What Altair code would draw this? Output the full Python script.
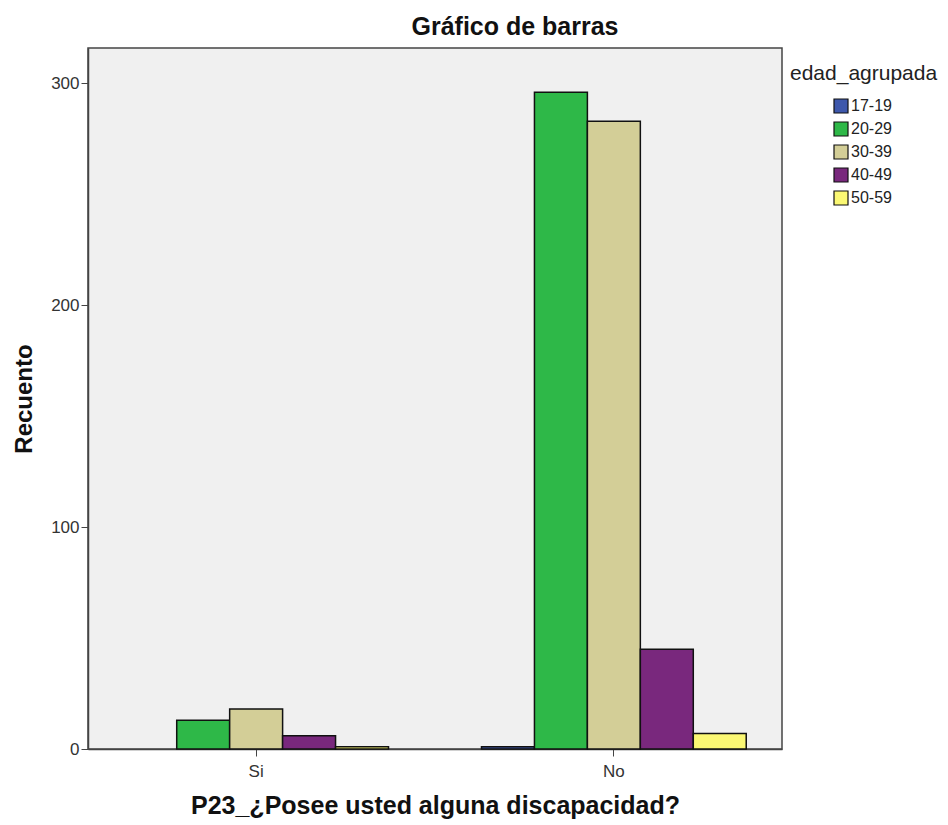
import altair as alt
import pandas as pd

groups = ["Si", "No"]
ages = ["17-19", "20-29", "30-39", "40-49", "50-59"]
si_counts = [0, 13, 18, 6, 1]
no_counts = [1, 296, 283, 45, 7]
colors = ["#3E58AC", "#2EB848", "#D3CE97", "#79287D", "#FBF873"]

rows = []
for g, counts in zip(groups, [si_counts, no_counts]):
    for a, c in zip(ages, counts):
        rows.append({"grupo": g, "edad": a, "n": c})
df = pd.DataFrame(rows)

font = "Liberation Sans"

chart = alt.Chart(df).transform_filter(
    alt.datum.n > 0
).mark_bar(stroke="#111111", strokeWidth=1.5).encode(
    x=alt.X("grupo:N", sort=groups,
            scale=alt.Scale(paddingInner=0.26, paddingOuter=0.1),
            axis=alt.Axis(title="P23_¿Posee usted alguna discapacidad?", labelAngle=0,
                          labelFontSize=17, labelColor="#333333", labelPadding=7,
                          tickSize=7, tickColor="#444444", domainColor="#444444",
                          domainWidth=1.5, titleFontSize=25, titleFontWeight="bold",
                          titleColor="#111111", titlePadding=14)),
    xOffset=alt.XOffset("edad:N", scale=alt.Scale(domain=ages, paddingInner=0, paddingOuter=0)),
    y=alt.Y("n:Q", scale=alt.Scale(domain=[0, 316], nice=False),
            axis=alt.Axis(title="Recuento", values=[0, 100, 200, 300], grid=False,
                          labelFontSize=17, labelColor="#333333", labelPadding=2,
                          tickSize=7, tickColor="#444444", domainColor="#444444",
                          domainWidth=1.5, titleFontSize=24, titleFontWeight="bold",
                          titleColor="#111111", titlePadding=14)),
    color=alt.Color("edad:N", scale=alt.Scale(domain=ages, range=colors),
                    legend=alt.Legend(title="edad_agrupada", orient="none",
                                      legendX=702, legendY=15,
                                      titleFontSize=21, titleFontWeight="normal",
                                      titleColor="#222222", titlePadding=14,
                                      labelFontSize=16, labelColor="#222222",
                                      symbolType="square", symbolSize=196,
                                      symbolStrokeColor="#111111", symbolStrokeWidth=1.2,
                                      symbolOffset=43, labelOffset=2, rowPadding=3)),
).properties(
    width=694,
    height=701,
    title=alt.TitleParams("Gráfico de barras", fontSize=25, fontWeight="bold",
                          color="#111111", dx=80, offset=8),
    autosize=alt.AutoSizeParams(type="none"),
    padding={"left": 80, "top": 40, "right": 156, "bottom": 75},
).configure(font=font).configure_view(
    fill="#F0F0F0", stroke="#444444", strokeWidth=1.5
)

chart.save("out.html", embed_options={"renderer": "svg", "actions": False})
